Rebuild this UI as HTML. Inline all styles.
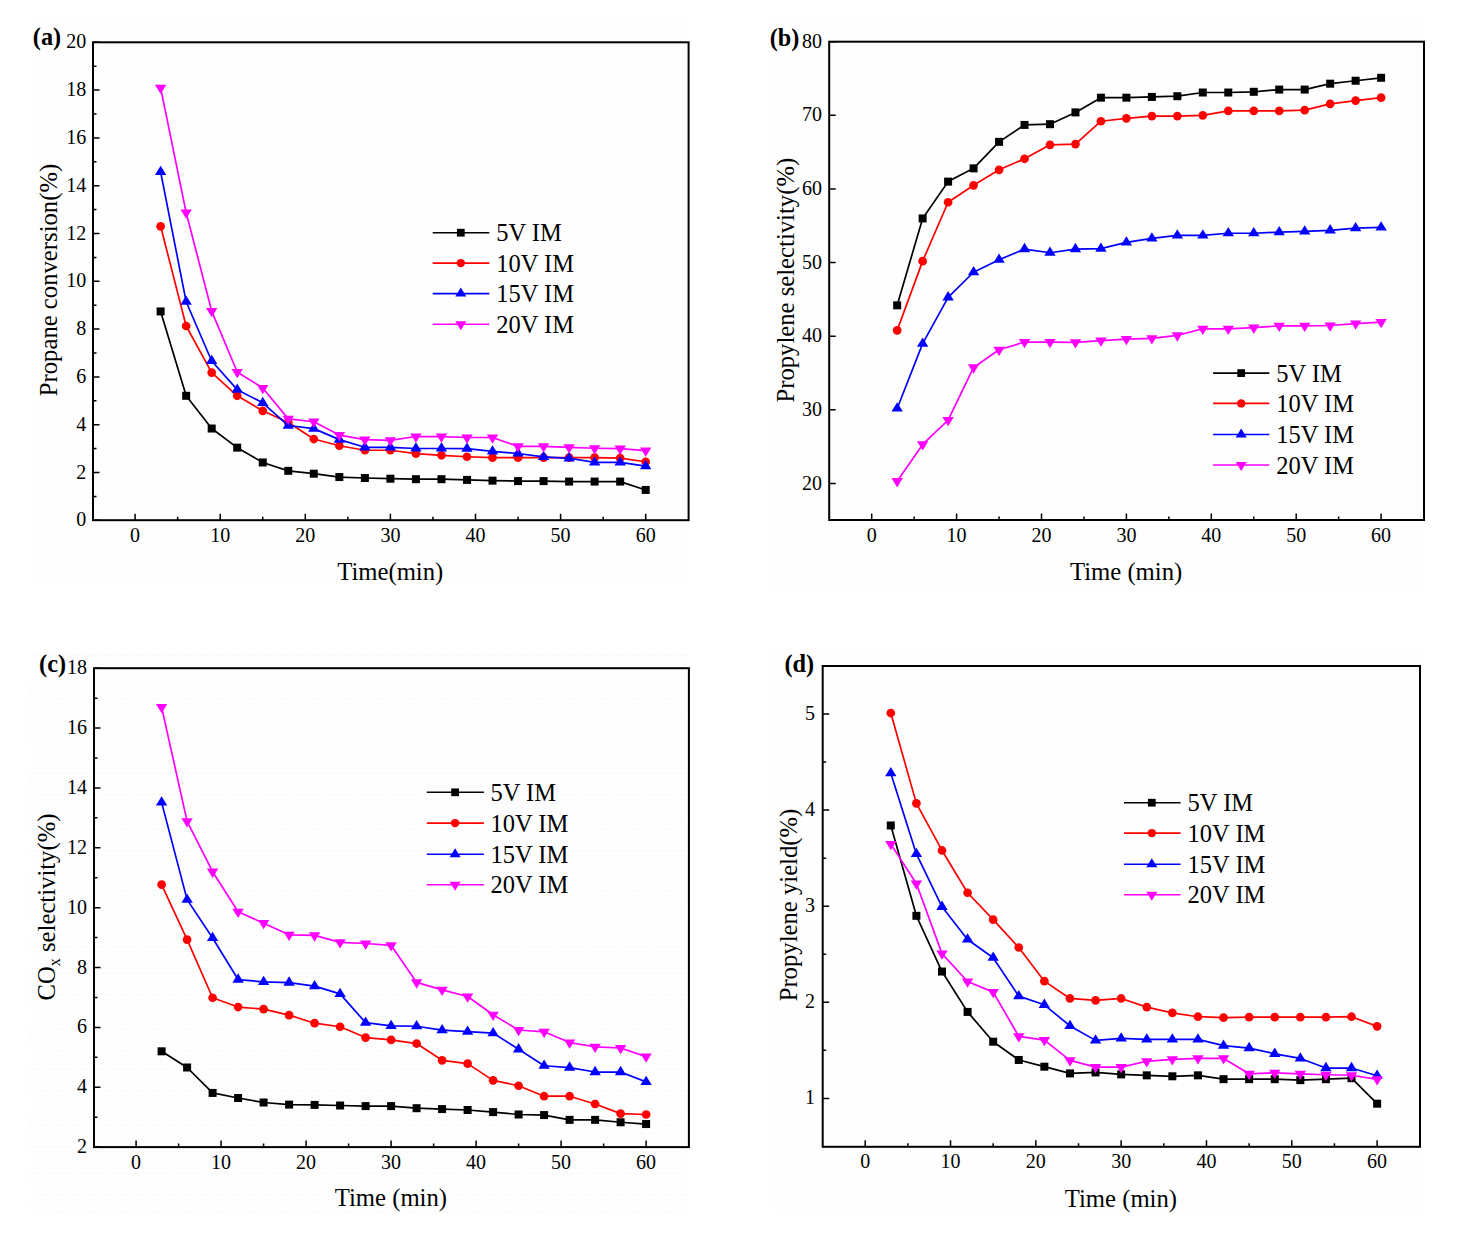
<!DOCTYPE html>
<html><head><meta charset="utf-8"><title>Propane dehydrogenation charts</title>
<style>
html,body{margin:0;padding:0;background:#fff;}
body{width:1466px;height:1239px;position:relative;overflow:hidden;}
svg text{font-family:"Liberation Serif",serif;fill:#000;}
.tk{font-size:20px;}
.lg{font-size:24.5px;}
.ti{font-size:24.7px;}
.lb{font-size:24.3px;font-weight:bold;}
</style></head><body>
<svg width="1466" height="1239" viewBox="0 0 1466 1239" style="position:absolute;left:0;top:0">
<defs><pattern id="dith" patternUnits="userSpaceOnUse" x="30" y="654" width="6.4" height="8.7"><rect x="1" y="1" width="1" height="1" fill="#f7ecea"/><rect x="4.2" y="1" width="1" height="1" fill="#e8f6f8"/><rect x="2.6" y="5.35" width="1" height="1" fill="#e8f6f8"/><rect x="5.8" y="5.35" width="1" height="1" fill="#f7ecea"/></pattern></defs>
<rect x="30" y="20" width="660" height="567" fill="#fefefe"/>
<path d="M135.10 520.20v-6.5 M220.20 520.20v-6.5 M305.30 520.20v-6.5 M390.40 520.20v-6.5 M475.50 520.20v-6.5 M560.60 520.20v-6.5 M645.70 520.20v-6.5 M177.65 520.20v-3.5 M262.75 520.20v-3.5 M347.85 520.20v-3.5 M432.95 520.20v-3.5 M518.05 520.20v-3.5 M603.15 520.20v-3.5 M93.00 520.30h6.5 M93.00 472.50h6.5 M93.00 424.70h6.5 M93.00 376.90h6.5 M93.00 329.10h6.5 M93.00 281.30h6.5 M93.00 233.50h6.5 M93.00 185.70h6.5 M93.00 137.90h6.5 M93.00 90.10h6.5 M93.00 42.30h6.5 M93.00 496.40h3.5 M93.00 448.60h3.5 M93.00 400.80h3.5 M93.00 353.00h3.5 M93.00 305.20h3.5 M93.00 257.40h3.5 M93.00 209.60h3.5 M93.00 161.80h3.5 M93.00 114.00h3.5 M93.00 66.20h3.5" stroke="#000" stroke-width="1.5" fill="none"/>
<rect x="93.00" y="42.30" width="595.60" height="477.90" fill="none" stroke="#000" stroke-width="2"/>
<text x="135.10" y="541.70" text-anchor="middle" class="tk">0</text>
<text x="220.20" y="541.70" text-anchor="middle" class="tk">10</text>
<text x="305.30" y="541.70" text-anchor="middle" class="tk">20</text>
<text x="390.40" y="541.70" text-anchor="middle" class="tk">30</text>
<text x="475.50" y="541.70" text-anchor="middle" class="tk">40</text>
<text x="560.60" y="541.70" text-anchor="middle" class="tk">50</text>
<text x="645.70" y="541.70" text-anchor="middle" class="tk">60</text>
<text x="86.30" y="526.30" text-anchor="end" class="tk">0</text>
<text x="86.30" y="478.50" text-anchor="end" class="tk">2</text>
<text x="86.30" y="430.70" text-anchor="end" class="tk">4</text>
<text x="86.30" y="382.90" text-anchor="end" class="tk">6</text>
<text x="86.30" y="335.10" text-anchor="end" class="tk">8</text>
<text x="86.30" y="287.30" text-anchor="end" class="tk">10</text>
<text x="86.30" y="239.50" text-anchor="end" class="tk">12</text>
<text x="86.30" y="191.70" text-anchor="end" class="tk">14</text>
<text x="86.30" y="143.90" text-anchor="end" class="tk">16</text>
<text x="86.30" y="96.10" text-anchor="end" class="tk">18</text>
<text x="86.30" y="48.30" text-anchor="end" class="tk">20</text>
<polyline points="160.63,311.41 186.16,395.78 211.69,428.52 237.22,447.64 262.75,462.46 288.28,470.83 313.81,473.69 339.34,477.04 364.87,478.00 390.40,478.71 415.93,479.19 441.46,479.19 466.99,479.91 492.52,480.63 518.05,481.10 543.58,481.10 569.11,481.58 594.64,481.58 620.17,481.58 645.70,489.95" fill="none" stroke="#000000" stroke-width="1.7" stroke-linejoin="round"/>
<rect x="156.63" y="307.41" width="8.00" height="8.00" fill="#000000"/><rect x="182.16" y="391.78" width="8.00" height="8.00" fill="#000000"/><rect x="207.69" y="424.52" width="8.00" height="8.00" fill="#000000"/><rect x="233.22" y="443.64" width="8.00" height="8.00" fill="#000000"/><rect x="258.75" y="458.46" width="8.00" height="8.00" fill="#000000"/><rect x="284.28" y="466.83" width="8.00" height="8.00" fill="#000000"/><rect x="309.81" y="469.69" width="8.00" height="8.00" fill="#000000"/><rect x="335.34" y="473.04" width="8.00" height="8.00" fill="#000000"/><rect x="360.87" y="474.00" width="8.00" height="8.00" fill="#000000"/><rect x="386.40" y="474.71" width="8.00" height="8.00" fill="#000000"/><rect x="411.93" y="475.19" width="8.00" height="8.00" fill="#000000"/><rect x="437.46" y="475.19" width="8.00" height="8.00" fill="#000000"/><rect x="462.99" y="475.91" width="8.00" height="8.00" fill="#000000"/><rect x="488.52" y="476.63" width="8.00" height="8.00" fill="#000000"/><rect x="514.05" y="477.10" width="8.00" height="8.00" fill="#000000"/><rect x="539.58" y="477.10" width="8.00" height="8.00" fill="#000000"/><rect x="565.11" y="477.58" width="8.00" height="8.00" fill="#000000"/><rect x="590.64" y="477.58" width="8.00" height="8.00" fill="#000000"/><rect x="616.17" y="477.58" width="8.00" height="8.00" fill="#000000"/><rect x="641.70" y="485.95" width="8.00" height="8.00" fill="#000000"/>
<polyline points="160.63,226.33 186.16,325.99 211.69,372.60 237.22,395.78 262.75,410.84 288.28,422.55 313.81,439.04 339.34,445.73 364.87,450.27 390.40,450.27 415.93,453.62 441.46,455.29 466.99,456.73 492.52,457.68 518.05,457.68 543.58,457.68 569.11,457.68 594.64,457.68 620.17,458.16 645.70,461.74" fill="none" stroke="#ff0000" stroke-width="1.7" stroke-linejoin="round"/>
<circle cx="160.63" cy="226.33" r="4.35" fill="#ff0000"/><circle cx="186.16" cy="325.99" r="4.35" fill="#ff0000"/><circle cx="211.69" cy="372.60" r="4.35" fill="#ff0000"/><circle cx="237.22" cy="395.78" r="4.35" fill="#ff0000"/><circle cx="262.75" cy="410.84" r="4.35" fill="#ff0000"/><circle cx="288.28" cy="422.55" r="4.35" fill="#ff0000"/><circle cx="313.81" cy="439.04" r="4.35" fill="#ff0000"/><circle cx="339.34" cy="445.73" r="4.35" fill="#ff0000"/><circle cx="364.87" cy="450.27" r="4.35" fill="#ff0000"/><circle cx="390.40" cy="450.27" r="4.35" fill="#ff0000"/><circle cx="415.93" cy="453.62" r="4.35" fill="#ff0000"/><circle cx="441.46" cy="455.29" r="4.35" fill="#ff0000"/><circle cx="466.99" cy="456.73" r="4.35" fill="#ff0000"/><circle cx="492.52" cy="457.68" r="4.35" fill="#ff0000"/><circle cx="518.05" cy="457.68" r="4.35" fill="#ff0000"/><circle cx="543.58" cy="457.68" r="4.35" fill="#ff0000"/><circle cx="569.11" cy="457.68" r="4.35" fill="#ff0000"/><circle cx="594.64" cy="457.68" r="4.35" fill="#ff0000"/><circle cx="620.17" cy="458.16" r="4.35" fill="#ff0000"/><circle cx="645.70" cy="461.74" r="4.35" fill="#ff0000"/>
<polyline points="160.63,171.95 186.16,301.73 211.69,361.00 237.22,389.68 262.75,402.83 288.28,425.53 313.81,428.64 339.34,439.63 364.87,447.28 390.40,447.28 415.93,448.48 441.46,448.48 466.99,448.72 492.52,451.34 518.05,453.50 543.58,456.84 569.11,458.28 594.64,462.34 620.17,462.34 645.70,466.16" fill="none" stroke="#0000ff" stroke-width="1.7" stroke-linejoin="round"/>
<path d="M160.63 165.75L166.33 175.05L154.93 175.05Z" fill="#0000ff"/><path d="M186.16 295.53L191.86 304.83L180.46 304.83Z" fill="#0000ff"/><path d="M211.69 354.80L217.39 364.10L205.99 364.10Z" fill="#0000ff"/><path d="M237.22 383.48L242.92 392.78L231.52 392.78Z" fill="#0000ff"/><path d="M262.75 396.63L268.45 405.93L257.05 405.93Z" fill="#0000ff"/><path d="M288.28 419.33L293.98 428.63L282.58 428.63Z" fill="#0000ff"/><path d="M313.81 422.44L319.51 431.74L308.11 431.74Z" fill="#0000ff"/><path d="M339.34 433.43L345.04 442.73L333.64 442.73Z" fill="#0000ff"/><path d="M364.87 441.08L370.57 450.38L359.17 450.38Z" fill="#0000ff"/><path d="M390.40 441.08L396.10 450.38L384.70 450.38Z" fill="#0000ff"/><path d="M415.93 442.28L421.63 451.58L410.23 451.58Z" fill="#0000ff"/><path d="M441.46 442.28L447.16 451.58L435.76 451.58Z" fill="#0000ff"/><path d="M466.99 442.52L472.69 451.82L461.29 451.82Z" fill="#0000ff"/><path d="M492.52 445.14L498.22 454.44L486.82 454.44Z" fill="#0000ff"/><path d="M518.05 447.30L523.75 456.60L512.35 456.60Z" fill="#0000ff"/><path d="M543.58 450.64L549.28 459.94L537.88 459.94Z" fill="#0000ff"/><path d="M569.11 452.08L574.81 461.38L563.41 461.38Z" fill="#0000ff"/><path d="M594.64 456.14L600.34 465.44L588.94 465.44Z" fill="#0000ff"/><path d="M620.17 456.14L625.87 465.44L614.47 465.44Z" fill="#0000ff"/><path d="M645.70 459.96L651.40 469.26L640.00 469.26Z" fill="#0000ff"/>
<polyline points="160.63,87.83 186.16,212.59 211.69,311.06 237.22,372.00 262.75,388.02 288.28,418.85 313.81,421.72 339.34,435.10 364.87,439.64 390.40,440.36 415.93,436.53 441.46,436.53 466.99,437.49 492.52,437.49 518.05,446.33 543.58,446.33 569.11,447.29 594.64,448.24 620.17,448.72 645.70,450.63" fill="none" stroke="#ff00ff" stroke-width="1.7" stroke-linejoin="round"/>
<path d="M154.93 84.73L166.33 84.73L160.63 94.03Z" fill="#ff00ff"/><path d="M180.46 209.49L191.86 209.49L186.16 218.79Z" fill="#ff00ff"/><path d="M205.99 307.96L217.39 307.96L211.69 317.26Z" fill="#ff00ff"/><path d="M231.52 368.90L242.92 368.90L237.22 378.20Z" fill="#ff00ff"/><path d="M257.05 384.92L268.45 384.92L262.75 394.22Z" fill="#ff00ff"/><path d="M282.58 415.75L293.98 415.75L288.28 425.05Z" fill="#ff00ff"/><path d="M308.11 418.62L319.51 418.62L313.81 427.92Z" fill="#ff00ff"/><path d="M333.64 432.00L345.04 432.00L339.34 441.30Z" fill="#ff00ff"/><path d="M359.17 436.54L370.57 436.54L364.87 445.84Z" fill="#ff00ff"/><path d="M384.70 437.26L396.10 437.26L390.40 446.56Z" fill="#ff00ff"/><path d="M410.23 433.43L421.63 433.43L415.93 442.73Z" fill="#ff00ff"/><path d="M435.76 433.43L447.16 433.43L441.46 442.73Z" fill="#ff00ff"/><path d="M461.29 434.39L472.69 434.39L466.99 443.69Z" fill="#ff00ff"/><path d="M486.82 434.39L498.22 434.39L492.52 443.69Z" fill="#ff00ff"/><path d="M512.35 443.23L523.75 443.23L518.05 452.53Z" fill="#ff00ff"/><path d="M537.88 443.23L549.28 443.23L543.58 452.53Z" fill="#ff00ff"/><path d="M563.41 444.19L574.81 444.19L569.11 453.49Z" fill="#ff00ff"/><path d="M588.94 445.14L600.34 445.14L594.64 454.44Z" fill="#ff00ff"/><path d="M614.47 445.62L625.87 445.62L620.17 454.92Z" fill="#ff00ff"/><path d="M640.00 447.53L651.40 447.53L645.70 456.83Z" fill="#ff00ff"/>
<path d="M432.70 232.70H489.30" stroke="#000000" stroke-width="1.6"/>
<rect x="456.92" y="228.82" width="7.76" height="7.76" fill="#000000"/>
<text x="496.20" y="241.20" class="lg">5V IM</text>
<path d="M432.70 263.10H489.30" stroke="#ff0000" stroke-width="1.6"/>
<circle cx="460.80" cy="263.10" r="4.22" fill="#ff0000"/>
<text x="496.20" y="271.60" class="lg">10V IM</text>
<path d="M432.70 293.60H489.30" stroke="#0000ff" stroke-width="1.6"/>
<path d="M460.80 287.54L466.33 296.56L455.27 296.56Z" fill="#0000ff"/>
<text x="496.20" y="302.10" class="lg">15V IM</text>
<path d="M432.70 324.30H489.30" stroke="#ff00ff" stroke-width="1.6"/>
<path d="M455.27 321.34L466.33 321.34L460.80 330.36Z" fill="#ff00ff"/>
<text x="496.20" y="332.80" class="lg">20V IM</text>
<text x="337.20" y="579.90" class="ti">Time(min)</text>
<text x="0" y="0" text-anchor="middle" class="ti" transform="translate(57.30,280.00) rotate(-90)">Propane conversion(%)</text>
<text x="32.80" y="45.20" class="lb">(a)</text>
<rect x="767" y="20" width="659" height="568" fill="#fefefe"/>
<path d="M871.70 520.00v-6.5 M956.60 520.00v-6.5 M1041.50 520.00v-6.5 M1126.40 520.00v-6.5 M1211.30 520.00v-6.5 M1296.20 520.00v-6.5 M1381.10 520.00v-6.5 M914.15 520.00v-3.5 M999.05 520.00v-3.5 M1083.95 520.00v-3.5 M1168.85 520.00v-3.5 M1253.75 520.00v-3.5 M1338.65 520.00v-3.5 M829.20 483.50h6.5 M829.20 409.87h6.5 M829.20 336.24h6.5 M829.20 262.61h6.5 M829.20 188.98h6.5 M829.20 115.35h6.5 M829.20 41.72h6.5 M829.20 483.50h3.5 M829.20 409.87h3.5 M829.20 336.24h3.5 M829.20 262.61h3.5 M829.20 188.98h3.5 M829.20 115.35h3.5" stroke="#000" stroke-width="1.5" fill="none"/>
<rect x="829.20" y="41.70" width="594.80" height="478.30" fill="none" stroke="#000" stroke-width="2"/>
<text x="871.70" y="541.50" text-anchor="middle" class="tk">0</text>
<text x="956.60" y="541.50" text-anchor="middle" class="tk">10</text>
<text x="1041.50" y="541.50" text-anchor="middle" class="tk">20</text>
<text x="1126.40" y="541.50" text-anchor="middle" class="tk">30</text>
<text x="1211.30" y="541.50" text-anchor="middle" class="tk">40</text>
<text x="1296.20" y="541.50" text-anchor="middle" class="tk">50</text>
<text x="1381.10" y="541.50" text-anchor="middle" class="tk">60</text>
<text x="822.00" y="489.50" text-anchor="end" class="tk">20</text>
<text x="822.00" y="415.87" text-anchor="end" class="tk">30</text>
<text x="822.00" y="342.24" text-anchor="end" class="tk">40</text>
<text x="822.00" y="268.61" text-anchor="end" class="tk">50</text>
<text x="822.00" y="194.98" text-anchor="end" class="tk">60</text>
<text x="822.00" y="121.35" text-anchor="end" class="tk">70</text>
<text x="822.00" y="47.72" text-anchor="end" class="tk">80</text>
<polyline points="897.17,305.32 922.64,218.43 948.11,181.62 973.58,168.36 999.05,141.86 1024.52,124.92 1049.99,124.19 1075.46,112.40 1100.93,97.68 1126.40,97.68 1151.87,96.94 1177.34,96.21 1202.81,92.52 1228.28,92.52 1253.75,91.79 1279.22,89.58 1304.69,89.58 1330.16,83.69 1355.63,80.74 1381.10,77.80" fill="none" stroke="#000000" stroke-width="1.7" stroke-linejoin="round"/>
<rect x="893.17" y="301.32" width="8.00" height="8.00" fill="#000000"/><rect x="918.64" y="214.43" width="8.00" height="8.00" fill="#000000"/><rect x="944.11" y="177.62" width="8.00" height="8.00" fill="#000000"/><rect x="969.58" y="164.36" width="8.00" height="8.00" fill="#000000"/><rect x="995.05" y="137.86" width="8.00" height="8.00" fill="#000000"/><rect x="1020.52" y="120.92" width="8.00" height="8.00" fill="#000000"/><rect x="1045.99" y="120.19" width="8.00" height="8.00" fill="#000000"/><rect x="1071.46" y="108.40" width="8.00" height="8.00" fill="#000000"/><rect x="1096.93" y="93.68" width="8.00" height="8.00" fill="#000000"/><rect x="1122.40" y="93.68" width="8.00" height="8.00" fill="#000000"/><rect x="1147.87" y="92.94" width="8.00" height="8.00" fill="#000000"/><rect x="1173.34" y="92.21" width="8.00" height="8.00" fill="#000000"/><rect x="1198.81" y="88.52" width="8.00" height="8.00" fill="#000000"/><rect x="1224.28" y="88.52" width="8.00" height="8.00" fill="#000000"/><rect x="1249.75" y="87.79" width="8.00" height="8.00" fill="#000000"/><rect x="1275.22" y="85.58" width="8.00" height="8.00" fill="#000000"/><rect x="1300.69" y="85.58" width="8.00" height="8.00" fill="#000000"/><rect x="1326.16" y="79.69" width="8.00" height="8.00" fill="#000000"/><rect x="1351.63" y="76.74" width="8.00" height="8.00" fill="#000000"/><rect x="1377.10" y="73.80" width="8.00" height="8.00" fill="#000000"/>
<polyline points="897.17,330.35 922.64,261.14 948.11,202.23 973.58,185.30 999.05,169.84 1024.52,158.79 1049.99,144.80 1075.46,144.07 1100.93,121.24 1126.40,118.30 1151.87,116.09 1177.34,116.09 1202.81,115.35 1228.28,110.93 1253.75,110.93 1279.22,110.93 1304.69,110.20 1330.16,103.94 1355.63,100.62 1381.10,97.68" fill="none" stroke="#ff0000" stroke-width="1.7" stroke-linejoin="round"/>
<circle cx="897.17" cy="330.35" r="4.35" fill="#ff0000"/><circle cx="922.64" cy="261.14" r="4.35" fill="#ff0000"/><circle cx="948.11" cy="202.23" r="4.35" fill="#ff0000"/><circle cx="973.58" cy="185.30" r="4.35" fill="#ff0000"/><circle cx="999.05" cy="169.84" r="4.35" fill="#ff0000"/><circle cx="1024.52" cy="158.79" r="4.35" fill="#ff0000"/><circle cx="1049.99" cy="144.80" r="4.35" fill="#ff0000"/><circle cx="1075.46" cy="144.07" r="4.35" fill="#ff0000"/><circle cx="1100.93" cy="121.24" r="4.35" fill="#ff0000"/><circle cx="1126.40" cy="118.30" r="4.35" fill="#ff0000"/><circle cx="1151.87" cy="116.09" r="4.35" fill="#ff0000"/><circle cx="1177.34" cy="116.09" r="4.35" fill="#ff0000"/><circle cx="1202.81" cy="115.35" r="4.35" fill="#ff0000"/><circle cx="1228.28" cy="110.93" r="4.35" fill="#ff0000"/><circle cx="1253.75" cy="110.93" r="4.35" fill="#ff0000"/><circle cx="1279.22" cy="110.93" r="4.35" fill="#ff0000"/><circle cx="1304.69" cy="110.20" r="4.35" fill="#ff0000"/><circle cx="1330.16" cy="103.94" r="4.35" fill="#ff0000"/><circle cx="1355.63" cy="100.62" r="4.35" fill="#ff0000"/><circle cx="1381.10" cy="97.68" r="4.35" fill="#ff0000"/>
<polyline points="897.17,408.47 922.64,343.68 948.11,297.29 973.58,272.26 999.05,259.74 1024.52,249.07 1049.99,252.75 1075.46,249.07 1100.93,248.70 1126.40,242.44 1151.87,238.39 1177.34,235.44 1202.81,235.44 1228.28,233.24 1253.75,233.24 1279.22,232.13 1304.69,231.39 1330.16,230.29 1355.63,228.08 1381.10,227.34" fill="none" stroke="#0000ff" stroke-width="1.7" stroke-linejoin="round"/>
<path d="M897.17 402.27L902.87 411.57L891.47 411.57Z" fill="#0000ff"/><path d="M922.64 337.48L928.34 346.78L916.94 346.78Z" fill="#0000ff"/><path d="M948.11 291.09L953.81 300.39L942.41 300.39Z" fill="#0000ff"/><path d="M973.58 266.06L979.28 275.36L967.88 275.36Z" fill="#0000ff"/><path d="M999.05 253.54L1004.75 262.84L993.35 262.84Z" fill="#0000ff"/><path d="M1024.52 242.87L1030.22 252.17L1018.82 252.17Z" fill="#0000ff"/><path d="M1049.99 246.55L1055.69 255.85L1044.29 255.85Z" fill="#0000ff"/><path d="M1075.46 242.87L1081.16 252.17L1069.76 252.17Z" fill="#0000ff"/><path d="M1100.93 242.50L1106.63 251.80L1095.23 251.80Z" fill="#0000ff"/><path d="M1126.40 236.24L1132.10 245.54L1120.70 245.54Z" fill="#0000ff"/><path d="M1151.87 232.19L1157.57 241.49L1146.17 241.49Z" fill="#0000ff"/><path d="M1177.34 229.24L1183.04 238.54L1171.64 238.54Z" fill="#0000ff"/><path d="M1202.81 229.24L1208.51 238.54L1197.11 238.54Z" fill="#0000ff"/><path d="M1228.28 227.04L1233.98 236.34L1222.58 236.34Z" fill="#0000ff"/><path d="M1253.75 227.04L1259.45 236.34L1248.05 236.34Z" fill="#0000ff"/><path d="M1279.22 225.93L1284.92 235.23L1273.52 235.23Z" fill="#0000ff"/><path d="M1304.69 225.19L1310.39 234.49L1298.99 234.49Z" fill="#0000ff"/><path d="M1330.16 224.09L1335.86 233.39L1324.46 233.39Z" fill="#0000ff"/><path d="M1355.63 221.88L1361.33 231.18L1349.93 231.18Z" fill="#0000ff"/><path d="M1381.10 221.14L1386.80 230.44L1375.40 230.44Z" fill="#0000ff"/>
<polyline points="897.17,481.21 922.64,444.40 948.11,420.10 973.58,367.46 999.05,349.78 1024.52,342.05 1049.99,342.05 1075.46,342.42 1100.93,340.58 1126.40,339.11 1151.87,338.37 1177.34,335.43 1202.81,328.80 1228.28,328.80 1253.75,327.70 1279.22,325.85 1304.69,325.85 1330.16,325.49 1355.63,323.65 1381.10,322.17" fill="none" stroke="#ff00ff" stroke-width="1.7" stroke-linejoin="round"/>
<path d="M891.47 478.11L902.87 478.11L897.17 487.41Z" fill="#ff00ff"/><path d="M916.94 441.30L928.34 441.30L922.64 450.60Z" fill="#ff00ff"/><path d="M942.41 417.00L953.81 417.00L948.11 426.30Z" fill="#ff00ff"/><path d="M967.88 364.36L979.28 364.36L973.58 373.66Z" fill="#ff00ff"/><path d="M993.35 346.68L1004.75 346.68L999.05 355.98Z" fill="#ff00ff"/><path d="M1018.82 338.95L1030.22 338.95L1024.52 348.25Z" fill="#ff00ff"/><path d="M1044.29 338.95L1055.69 338.95L1049.99 348.25Z" fill="#ff00ff"/><path d="M1069.76 339.32L1081.16 339.32L1075.46 348.62Z" fill="#ff00ff"/><path d="M1095.23 337.48L1106.63 337.48L1100.93 346.78Z" fill="#ff00ff"/><path d="M1120.70 336.01L1132.10 336.01L1126.40 345.31Z" fill="#ff00ff"/><path d="M1146.17 335.27L1157.57 335.27L1151.87 344.57Z" fill="#ff00ff"/><path d="M1171.64 332.33L1183.04 332.33L1177.34 341.63Z" fill="#ff00ff"/><path d="M1197.11 325.70L1208.51 325.70L1202.81 335.00Z" fill="#ff00ff"/><path d="M1222.58 325.70L1233.98 325.70L1228.28 335.00Z" fill="#ff00ff"/><path d="M1248.05 324.60L1259.45 324.60L1253.75 333.90Z" fill="#ff00ff"/><path d="M1273.52 322.75L1284.92 322.75L1279.22 332.05Z" fill="#ff00ff"/><path d="M1298.99 322.75L1310.39 322.75L1304.69 332.05Z" fill="#ff00ff"/><path d="M1324.46 322.39L1335.86 322.39L1330.16 331.69Z" fill="#ff00ff"/><path d="M1349.93 320.55L1361.33 320.55L1355.63 329.85Z" fill="#ff00ff"/><path d="M1375.40 319.07L1386.80 319.07L1381.10 328.37Z" fill="#ff00ff"/>
<path d="M1213.10 373.10H1269.30" stroke="#000000" stroke-width="1.6"/>
<rect x="1237.32" y="369.22" width="7.76" height="7.76" fill="#000000"/>
<text x="1276.20" y="381.60" class="lg">5V IM</text>
<path d="M1213.10 403.40H1269.30" stroke="#ff0000" stroke-width="1.6"/>
<circle cx="1241.20" cy="403.40" r="4.22" fill="#ff0000"/>
<text x="1276.20" y="411.90" class="lg">10V IM</text>
<path d="M1213.10 434.50H1269.30" stroke="#0000ff" stroke-width="1.6"/>
<path d="M1241.20 428.44L1246.73 437.46L1235.67 437.46Z" fill="#0000ff"/>
<text x="1276.20" y="443.00" class="lg">15V IM</text>
<path d="M1213.10 465.00H1269.30" stroke="#ff00ff" stroke-width="1.6"/>
<path d="M1235.67 462.04L1246.73 462.04L1241.20 471.06Z" fill="#ff00ff"/>
<text x="1276.20" y="473.50" class="lg">20V IM</text>
<text x="1070.00" y="580.10" class="ti">Time (min)</text>
<text x="0" y="0" text-anchor="middle" class="ti" transform="translate(794.00,280.20) rotate(-90)">Propylene selectivity(%)</text>
<text x="769.70" y="45.70" class="lb">(b)</text>
<rect x="30" y="654" width="658" height="560" fill="#fefefe"/>
<rect x="30" y="654" width="658" height="560" fill="url(#dith)"/>
<path d="M136.10 1147.10v-6.5 M221.10 1147.10v-6.5 M306.10 1147.10v-6.5 M391.10 1147.10v-6.5 M476.10 1147.10v-6.5 M561.10 1147.10v-6.5 M646.10 1147.10v-6.5 M178.60 1147.10v-3.5 M263.60 1147.10v-3.5 M348.60 1147.10v-3.5 M433.60 1147.10v-3.5 M518.60 1147.10v-3.5 M603.60 1147.10v-3.5 M94.00 1147.10h6.5 M94.00 1087.24h6.5 M94.00 1027.38h6.5 M94.00 967.52h6.5 M94.00 907.66h6.5 M94.00 847.80h6.5 M94.00 787.94h6.5 M94.00 728.08h6.5 M94.00 668.22h6.5 M94.00 1117.17h3.5 M94.00 1057.31h3.5 M94.00 997.45h3.5 M94.00 937.59h3.5 M94.00 877.73h3.5 M94.00 817.87h3.5 M94.00 758.01h3.5 M94.00 698.15h3.5" stroke="#000" stroke-width="1.5" fill="none"/>
<rect x="94.00" y="668.20" width="594.90" height="478.90" fill="none" stroke="#000" stroke-width="2"/>
<text x="136.10" y="1168.60" text-anchor="middle" class="tk">0</text>
<text x="221.10" y="1168.60" text-anchor="middle" class="tk">10</text>
<text x="306.10" y="1168.60" text-anchor="middle" class="tk">20</text>
<text x="391.10" y="1168.60" text-anchor="middle" class="tk">30</text>
<text x="476.10" y="1168.60" text-anchor="middle" class="tk">40</text>
<text x="561.10" y="1168.60" text-anchor="middle" class="tk">50</text>
<text x="646.10" y="1168.60" text-anchor="middle" class="tk">60</text>
<text x="87.00" y="1153.10" text-anchor="end" class="tk">2</text>
<text x="87.00" y="1093.24" text-anchor="end" class="tk">4</text>
<text x="87.00" y="1033.38" text-anchor="end" class="tk">6</text>
<text x="87.00" y="973.52" text-anchor="end" class="tk">8</text>
<text x="87.00" y="913.66" text-anchor="end" class="tk">10</text>
<text x="87.00" y="853.80" text-anchor="end" class="tk">12</text>
<text x="87.00" y="793.94" text-anchor="end" class="tk">14</text>
<text x="87.00" y="734.08" text-anchor="end" class="tk">16</text>
<text x="87.00" y="674.22" text-anchor="end" class="tk">18</text>
<polyline points="161.60,1051.32 187.10,1067.49 212.60,1092.93 238.10,1098.01 263.60,1102.50 289.10,1104.60 314.60,1104.90 340.10,1105.50 365.60,1106.10 391.10,1106.10 416.60,1108.19 442.10,1109.09 467.60,1109.99 493.10,1112.08 518.60,1114.48 544.10,1115.07 569.60,1119.86 595.10,1119.86 620.60,1122.26 646.10,1124.05" fill="none" stroke="#000000" stroke-width="1.7" stroke-linejoin="round"/>
<rect x="157.60" y="1047.32" width="8.00" height="8.00" fill="#000000"/><rect x="183.10" y="1063.49" width="8.00" height="8.00" fill="#000000"/><rect x="208.60" y="1088.93" width="8.00" height="8.00" fill="#000000"/><rect x="234.10" y="1094.01" width="8.00" height="8.00" fill="#000000"/><rect x="259.60" y="1098.50" width="8.00" height="8.00" fill="#000000"/><rect x="285.10" y="1100.60" width="8.00" height="8.00" fill="#000000"/><rect x="310.60" y="1100.90" width="8.00" height="8.00" fill="#000000"/><rect x="336.10" y="1101.50" width="8.00" height="8.00" fill="#000000"/><rect x="361.60" y="1102.10" width="8.00" height="8.00" fill="#000000"/><rect x="387.10" y="1102.10" width="8.00" height="8.00" fill="#000000"/><rect x="412.60" y="1104.19" width="8.00" height="8.00" fill="#000000"/><rect x="438.10" y="1105.09" width="8.00" height="8.00" fill="#000000"/><rect x="463.60" y="1105.99" width="8.00" height="8.00" fill="#000000"/><rect x="489.10" y="1108.08" width="8.00" height="8.00" fill="#000000"/><rect x="514.60" y="1110.48" width="8.00" height="8.00" fill="#000000"/><rect x="540.10" y="1111.07" width="8.00" height="8.00" fill="#000000"/><rect x="565.60" y="1115.86" width="8.00" height="8.00" fill="#000000"/><rect x="591.10" y="1115.86" width="8.00" height="8.00" fill="#000000"/><rect x="616.60" y="1118.26" width="8.00" height="8.00" fill="#000000"/><rect x="642.10" y="1120.05" width="8.00" height="8.00" fill="#000000"/>
<polyline points="161.60,884.61 187.10,939.69 212.60,997.75 238.10,1007.03 263.60,1009.12 289.10,1015.11 314.60,1023.19 340.10,1026.78 365.60,1037.56 391.10,1039.95 416.60,1043.54 442.10,1060.30 467.60,1063.60 493.10,1080.36 518.60,1085.74 544.10,1096.22 569.60,1096.22 595.10,1104.00 620.60,1113.58 646.10,1114.48" fill="none" stroke="#ff0000" stroke-width="1.7" stroke-linejoin="round"/>
<circle cx="161.60" cy="884.61" r="4.35" fill="#ff0000"/><circle cx="187.10" cy="939.69" r="4.35" fill="#ff0000"/><circle cx="212.60" cy="997.75" r="4.35" fill="#ff0000"/><circle cx="238.10" cy="1007.03" r="4.35" fill="#ff0000"/><circle cx="263.60" cy="1009.12" r="4.35" fill="#ff0000"/><circle cx="289.10" cy="1015.11" r="4.35" fill="#ff0000"/><circle cx="314.60" cy="1023.19" r="4.35" fill="#ff0000"/><circle cx="340.10" cy="1026.78" r="4.35" fill="#ff0000"/><circle cx="365.60" cy="1037.56" r="4.35" fill="#ff0000"/><circle cx="391.10" cy="1039.95" r="4.35" fill="#ff0000"/><circle cx="416.60" cy="1043.54" r="4.35" fill="#ff0000"/><circle cx="442.10" cy="1060.30" r="4.35" fill="#ff0000"/><circle cx="467.60" cy="1063.60" r="4.35" fill="#ff0000"/><circle cx="493.10" cy="1080.36" r="4.35" fill="#ff0000"/><circle cx="518.60" cy="1085.74" r="4.35" fill="#ff0000"/><circle cx="544.10" cy="1096.22" r="4.35" fill="#ff0000"/><circle cx="569.60" cy="1096.22" r="4.35" fill="#ff0000"/><circle cx="595.10" cy="1104.00" r="4.35" fill="#ff0000"/><circle cx="620.60" cy="1113.58" r="4.35" fill="#ff0000"/><circle cx="646.10" cy="1114.48" r="4.35" fill="#ff0000"/>
<polyline points="161.60,802.36 187.10,899.63 212.60,937.94 238.10,979.55 263.60,981.94 289.10,982.54 314.60,986.13 340.10,993.91 365.60,1022.64 391.10,1025.94 416.60,1026.24 442.10,1030.13 467.60,1031.62 493.10,1033.12 518.60,1049.28 544.10,1065.74 569.60,1067.54 595.10,1072.03 620.60,1072.03 646.10,1081.91" fill="none" stroke="#0000ff" stroke-width="1.7" stroke-linejoin="round"/>
<path d="M161.60 796.16L167.30 805.46L155.90 805.46Z" fill="#0000ff"/><path d="M187.10 893.43L192.80 902.73L181.40 902.73Z" fill="#0000ff"/><path d="M212.60 931.74L218.30 941.04L206.90 941.04Z" fill="#0000ff"/><path d="M238.10 973.35L243.80 982.65L232.40 982.65Z" fill="#0000ff"/><path d="M263.60 975.74L269.30 985.04L257.90 985.04Z" fill="#0000ff"/><path d="M289.10 976.34L294.80 985.64L283.40 985.64Z" fill="#0000ff"/><path d="M314.60 979.93L320.30 989.23L308.90 989.23Z" fill="#0000ff"/><path d="M340.10 987.71L345.80 997.01L334.40 997.01Z" fill="#0000ff"/><path d="M365.60 1016.44L371.30 1025.74L359.90 1025.74Z" fill="#0000ff"/><path d="M391.10 1019.74L396.80 1029.04L385.40 1029.04Z" fill="#0000ff"/><path d="M416.60 1020.04L422.30 1029.34L410.90 1029.34Z" fill="#0000ff"/><path d="M442.10 1023.93L447.80 1033.23L436.40 1033.23Z" fill="#0000ff"/><path d="M467.60 1025.42L473.30 1034.72L461.90 1034.72Z" fill="#0000ff"/><path d="M493.10 1026.92L498.80 1036.22L487.40 1036.22Z" fill="#0000ff"/><path d="M518.60 1043.08L524.30 1052.38L512.90 1052.38Z" fill="#0000ff"/><path d="M544.10 1059.54L549.80 1068.84L538.40 1068.84Z" fill="#0000ff"/><path d="M569.60 1061.34L575.30 1070.64L563.90 1070.64Z" fill="#0000ff"/><path d="M595.10 1065.83L600.80 1075.13L589.40 1075.13Z" fill="#0000ff"/><path d="M620.60 1065.83L626.30 1075.13L614.90 1075.13Z" fill="#0000ff"/><path d="M646.10 1075.71L651.80 1085.01L640.40 1085.01Z" fill="#0000ff"/>
<polyline points="161.60,707.08 187.10,821.41 212.60,871.69 238.10,911.80 263.60,923.17 289.10,934.84 314.60,935.44 340.10,942.33 365.60,943.52 391.10,945.32 416.60,982.43 442.10,989.91 467.60,996.50 493.10,1014.76 518.60,1030.02 544.10,1031.82 569.60,1042.59 595.10,1046.78 620.60,1047.98 646.10,1056.66" fill="none" stroke="#ff00ff" stroke-width="1.7" stroke-linejoin="round"/>
<path d="M155.90 703.98L167.30 703.98L161.60 713.28Z" fill="#ff00ff"/><path d="M181.40 818.31L192.80 818.31L187.10 827.61Z" fill="#ff00ff"/><path d="M206.90 868.59L218.30 868.59L212.60 877.89Z" fill="#ff00ff"/><path d="M232.40 908.70L243.80 908.70L238.10 918.00Z" fill="#ff00ff"/><path d="M257.90 920.07L269.30 920.07L263.60 929.37Z" fill="#ff00ff"/><path d="M283.40 931.74L294.80 931.74L289.10 941.04Z" fill="#ff00ff"/><path d="M308.90 932.34L320.30 932.34L314.60 941.64Z" fill="#ff00ff"/><path d="M334.40 939.23L345.80 939.23L340.10 948.53Z" fill="#ff00ff"/><path d="M359.90 940.42L371.30 940.42L365.60 949.72Z" fill="#ff00ff"/><path d="M385.40 942.22L396.80 942.22L391.10 951.52Z" fill="#ff00ff"/><path d="M410.90 979.33L422.30 979.33L416.60 988.63Z" fill="#ff00ff"/><path d="M436.40 986.81L447.80 986.81L442.10 996.11Z" fill="#ff00ff"/><path d="M461.90 993.40L473.30 993.40L467.60 1002.70Z" fill="#ff00ff"/><path d="M487.40 1011.66L498.80 1011.66L493.10 1020.96Z" fill="#ff00ff"/><path d="M512.90 1026.92L524.30 1026.92L518.60 1036.22Z" fill="#ff00ff"/><path d="M538.40 1028.72L549.80 1028.72L544.10 1038.02Z" fill="#ff00ff"/><path d="M563.90 1039.49L575.30 1039.49L569.60 1048.79Z" fill="#ff00ff"/><path d="M589.40 1043.68L600.80 1043.68L595.10 1052.98Z" fill="#ff00ff"/><path d="M614.90 1044.88L626.30 1044.88L620.60 1054.18Z" fill="#ff00ff"/><path d="M640.40 1053.56L651.80 1053.56L646.10 1062.86Z" fill="#ff00ff"/>
<path d="M426.80 792.30H483.90" stroke="#000000" stroke-width="1.6"/>
<rect x="451.22" y="788.42" width="7.76" height="7.76" fill="#000000"/>
<text x="490.40" y="800.80" class="lg">5V IM</text>
<path d="M426.80 823.10H483.90" stroke="#ff0000" stroke-width="1.6"/>
<circle cx="455.10" cy="823.10" r="4.22" fill="#ff0000"/>
<text x="490.40" y="831.60" class="lg">10V IM</text>
<path d="M426.80 854.20H483.90" stroke="#0000ff" stroke-width="1.6"/>
<path d="M455.10 848.14L460.63 857.16L449.57 857.16Z" fill="#0000ff"/>
<text x="490.40" y="862.70" class="lg">15V IM</text>
<path d="M426.80 884.70H483.90" stroke="#ff00ff" stroke-width="1.6"/>
<path d="M449.57 881.74L460.63 881.74L455.10 890.76Z" fill="#ff00ff"/>
<text x="490.40" y="893.20" class="lg">20V IM</text>
<text x="334.80" y="1206.30" class="ti">Time (min)</text>
<text x="0" y="0" text-anchor="middle" class="ti" transform="translate(55.2,907.0) rotate(-90)">CO<tspan dy="5" font-size="16">x</tspan><tspan dy="-5"> selectivity(%)</tspan></text>
<text x="39.10" y="671.70" class="lb">(c)</text>
<rect x="771" y="647" width="651" height="566" fill="#fefefe"/>
<path d="M865.20 1146.80v-6.5 M950.52 1146.80v-6.5 M1035.84 1146.80v-6.5 M1121.16 1146.80v-6.5 M1206.48 1146.80v-6.5 M1291.80 1146.80v-6.5 M1377.12 1146.80v-6.5 M907.86 1146.80v-3.5 M993.18 1146.80v-3.5 M1078.50 1146.80v-3.5 M1163.82 1146.80v-3.5 M1249.14 1146.80v-3.5 M1334.46 1146.80v-3.5 M822.70 1098.40h6.5 M822.70 1002.30h6.5 M822.70 906.20h6.5 M822.70 810.10h6.5 M822.70 714.00h6.5 M822.70 1050.35h3.5 M822.70 954.25h3.5 M822.70 858.15h3.5 M822.70 762.05h3.5" stroke="#000" stroke-width="1.5" fill="none"/>
<rect x="822.70" y="666.00" width="597.30" height="480.80" fill="none" stroke="#000" stroke-width="2"/>
<text x="865.20" y="1168.30" text-anchor="middle" class="tk">0</text>
<text x="950.52" y="1168.30" text-anchor="middle" class="tk">10</text>
<text x="1035.84" y="1168.30" text-anchor="middle" class="tk">20</text>
<text x="1121.16" y="1168.30" text-anchor="middle" class="tk">30</text>
<text x="1206.48" y="1168.30" text-anchor="middle" class="tk">40</text>
<text x="1291.80" y="1168.30" text-anchor="middle" class="tk">50</text>
<text x="1377.12" y="1168.30" text-anchor="middle" class="tk">60</text>
<text x="815.00" y="1104.40" text-anchor="end" class="tk">1</text>
<text x="815.00" y="1008.30" text-anchor="end" class="tk">2</text>
<text x="815.00" y="912.20" text-anchor="end" class="tk">3</text>
<text x="815.00" y="816.10" text-anchor="end" class="tk">4</text>
<text x="815.00" y="720.00" text-anchor="end" class="tk">5</text>
<polyline points="890.80,825.48 916.39,915.81 941.99,971.55 967.58,1011.91 993.18,1041.70 1018.78,1059.96 1044.37,1066.69 1069.97,1073.41 1095.56,1072.45 1121.16,1074.38 1146.76,1075.34 1172.35,1076.30 1197.95,1075.34 1223.54,1079.18 1249.14,1079.18 1274.74,1079.18 1300.33,1080.14 1325.93,1079.18 1351.52,1078.22 1377.12,1103.69" fill="none" stroke="#000000" stroke-width="1.7" stroke-linejoin="round"/>
<rect x="886.80" y="821.48" width="8.00" height="8.00" fill="#000000"/><rect x="912.39" y="911.81" width="8.00" height="8.00" fill="#000000"/><rect x="937.99" y="967.55" width="8.00" height="8.00" fill="#000000"/><rect x="963.58" y="1007.91" width="8.00" height="8.00" fill="#000000"/><rect x="989.18" y="1037.70" width="8.00" height="8.00" fill="#000000"/><rect x="1014.78" y="1055.96" width="8.00" height="8.00" fill="#000000"/><rect x="1040.37" y="1062.69" width="8.00" height="8.00" fill="#000000"/><rect x="1065.97" y="1069.41" width="8.00" height="8.00" fill="#000000"/><rect x="1091.56" y="1068.45" width="8.00" height="8.00" fill="#000000"/><rect x="1117.16" y="1070.38" width="8.00" height="8.00" fill="#000000"/><rect x="1142.76" y="1071.34" width="8.00" height="8.00" fill="#000000"/><rect x="1168.35" y="1072.30" width="8.00" height="8.00" fill="#000000"/><rect x="1193.95" y="1071.34" width="8.00" height="8.00" fill="#000000"/><rect x="1219.54" y="1075.18" width="8.00" height="8.00" fill="#000000"/><rect x="1245.14" y="1075.18" width="8.00" height="8.00" fill="#000000"/><rect x="1270.74" y="1075.18" width="8.00" height="8.00" fill="#000000"/><rect x="1296.33" y="1076.14" width="8.00" height="8.00" fill="#000000"/><rect x="1321.93" y="1075.18" width="8.00" height="8.00" fill="#000000"/><rect x="1347.52" y="1074.22" width="8.00" height="8.00" fill="#000000"/><rect x="1373.12" y="1099.69" width="8.00" height="8.00" fill="#000000"/>
<polyline points="890.80,713.04 916.39,803.37 941.99,850.46 967.58,892.75 993.18,919.65 1018.78,947.52 1044.37,981.16 1069.97,998.46 1095.56,1000.38 1121.16,998.46 1146.76,1007.11 1172.35,1012.87 1197.95,1016.72 1223.54,1017.68 1249.14,1017.20 1274.74,1017.20 1300.33,1017.20 1325.93,1017.20 1351.52,1016.72 1377.12,1026.33" fill="none" stroke="#ff0000" stroke-width="1.7" stroke-linejoin="round"/>
<circle cx="890.80" cy="713.04" r="4.35" fill="#ff0000"/><circle cx="916.39" cy="803.37" r="4.35" fill="#ff0000"/><circle cx="941.99" cy="850.46" r="4.35" fill="#ff0000"/><circle cx="967.58" cy="892.75" r="4.35" fill="#ff0000"/><circle cx="993.18" cy="919.65" r="4.35" fill="#ff0000"/><circle cx="1018.78" cy="947.52" r="4.35" fill="#ff0000"/><circle cx="1044.37" cy="981.16" r="4.35" fill="#ff0000"/><circle cx="1069.97" cy="998.46" r="4.35" fill="#ff0000"/><circle cx="1095.56" cy="1000.38" r="4.35" fill="#ff0000"/><circle cx="1121.16" cy="998.46" r="4.35" fill="#ff0000"/><circle cx="1146.76" cy="1007.11" r="4.35" fill="#ff0000"/><circle cx="1172.35" cy="1012.87" r="4.35" fill="#ff0000"/><circle cx="1197.95" cy="1016.72" r="4.35" fill="#ff0000"/><circle cx="1223.54" cy="1017.68" r="4.35" fill="#ff0000"/><circle cx="1249.14" cy="1017.20" r="4.35" fill="#ff0000"/><circle cx="1274.74" cy="1017.20" r="4.35" fill="#ff0000"/><circle cx="1300.33" cy="1017.20" r="4.35" fill="#ff0000"/><circle cx="1325.93" cy="1017.20" r="4.35" fill="#ff0000"/><circle cx="1351.52" cy="1016.72" r="4.35" fill="#ff0000"/><circle cx="1377.12" cy="1026.33" r="4.35" fill="#ff0000"/>
<polyline points="890.80,773.21 916.39,853.93 941.99,906.79 967.58,939.46 993.18,957.72 1018.78,996.16 1044.37,1004.81 1069.97,1025.95 1095.56,1040.37 1121.16,1038.45 1146.76,1039.41 1172.35,1039.41 1197.95,1039.41 1223.54,1045.65 1249.14,1048.06 1274.74,1053.82 1300.33,1058.43 1325.93,1068.04 1351.52,1068.04 1377.12,1075.73" fill="none" stroke="#0000ff" stroke-width="1.7" stroke-linejoin="round"/>
<path d="M890.80 767.01L896.50 776.31L885.10 776.31Z" fill="#0000ff"/><path d="M916.39 847.73L922.09 857.03L910.69 857.03Z" fill="#0000ff"/><path d="M941.99 900.59L947.69 909.89L936.29 909.89Z" fill="#0000ff"/><path d="M967.58 933.26L973.28 942.56L961.88 942.56Z" fill="#0000ff"/><path d="M993.18 951.52L998.88 960.82L987.48 960.82Z" fill="#0000ff"/><path d="M1018.78 989.96L1024.48 999.26L1013.08 999.26Z" fill="#0000ff"/><path d="M1044.37 998.61L1050.07 1007.91L1038.67 1007.91Z" fill="#0000ff"/><path d="M1069.97 1019.75L1075.67 1029.05L1064.27 1029.05Z" fill="#0000ff"/><path d="M1095.56 1034.17L1101.26 1043.47L1089.86 1043.47Z" fill="#0000ff"/><path d="M1121.16 1032.25L1126.86 1041.55L1115.46 1041.55Z" fill="#0000ff"/><path d="M1146.76 1033.21L1152.46 1042.51L1141.06 1042.51Z" fill="#0000ff"/><path d="M1172.35 1033.21L1178.05 1042.51L1166.65 1042.51Z" fill="#0000ff"/><path d="M1197.95 1033.21L1203.65 1042.51L1192.25 1042.51Z" fill="#0000ff"/><path d="M1223.54 1039.45L1229.24 1048.75L1217.84 1048.75Z" fill="#0000ff"/><path d="M1249.14 1041.86L1254.84 1051.16L1243.44 1051.16Z" fill="#0000ff"/><path d="M1274.74 1047.62L1280.44 1056.92L1269.04 1056.92Z" fill="#0000ff"/><path d="M1300.33 1052.23L1306.03 1061.53L1294.63 1061.53Z" fill="#0000ff"/><path d="M1325.93 1061.84L1331.63 1071.14L1320.23 1071.14Z" fill="#0000ff"/><path d="M1351.52 1061.84L1357.22 1071.14L1345.82 1071.14Z" fill="#0000ff"/><path d="M1377.12 1069.53L1382.82 1078.83L1371.42 1078.83Z" fill="#0000ff"/>
<polyline points="890.80,844.11 916.39,883.51 941.99,953.66 967.58,981.53 993.18,992.10 1018.78,1036.31 1044.37,1040.15 1069.97,1060.33 1095.56,1067.06 1121.16,1067.06 1146.76,1061.29 1172.35,1059.37 1197.95,1058.41 1223.54,1058.41 1249.14,1073.79 1274.74,1072.83 1300.33,1073.79 1325.93,1074.75 1351.52,1075.23 1377.12,1079.36" fill="none" stroke="#ff00ff" stroke-width="1.7" stroke-linejoin="round"/>
<path d="M885.10 841.01L896.50 841.01L890.80 850.31Z" fill="#ff00ff"/><path d="M910.69 880.41L922.09 880.41L916.39 889.71Z" fill="#ff00ff"/><path d="M936.29 950.56L947.69 950.56L941.99 959.86Z" fill="#ff00ff"/><path d="M961.88 978.43L973.28 978.43L967.58 987.73Z" fill="#ff00ff"/><path d="M987.48 989.00L998.88 989.00L993.18 998.30Z" fill="#ff00ff"/><path d="M1013.08 1033.21L1024.48 1033.21L1018.78 1042.51Z" fill="#ff00ff"/><path d="M1038.67 1037.05L1050.07 1037.05L1044.37 1046.35Z" fill="#ff00ff"/><path d="M1064.27 1057.23L1075.67 1057.23L1069.97 1066.53Z" fill="#ff00ff"/><path d="M1089.86 1063.96L1101.26 1063.96L1095.56 1073.26Z" fill="#ff00ff"/><path d="M1115.46 1063.96L1126.86 1063.96L1121.16 1073.26Z" fill="#ff00ff"/><path d="M1141.06 1058.19L1152.46 1058.19L1146.76 1067.49Z" fill="#ff00ff"/><path d="M1166.65 1056.27L1178.05 1056.27L1172.35 1065.57Z" fill="#ff00ff"/><path d="M1192.25 1055.31L1203.65 1055.31L1197.95 1064.61Z" fill="#ff00ff"/><path d="M1217.84 1055.31L1229.24 1055.31L1223.54 1064.61Z" fill="#ff00ff"/><path d="M1243.44 1070.69L1254.84 1070.69L1249.14 1079.99Z" fill="#ff00ff"/><path d="M1269.04 1069.72L1280.44 1069.72L1274.74 1079.03Z" fill="#ff00ff"/><path d="M1294.63 1070.69L1306.03 1070.69L1300.33 1079.99Z" fill="#ff00ff"/><path d="M1320.23 1071.65L1331.63 1071.65L1325.93 1080.95Z" fill="#ff00ff"/><path d="M1345.82 1072.13L1357.22 1072.13L1351.52 1081.43Z" fill="#ff00ff"/><path d="M1371.42 1076.26L1382.82 1076.26L1377.12 1085.56Z" fill="#ff00ff"/>
<path d="M1124.00 802.70H1180.60" stroke="#000000" stroke-width="1.6"/>
<rect x="1147.92" y="798.82" width="7.76" height="7.76" fill="#000000"/>
<text x="1187.50" y="811.20" class="lg">5V IM</text>
<path d="M1124.00 833.10H1180.60" stroke="#ff0000" stroke-width="1.6"/>
<circle cx="1151.80" cy="833.10" r="4.22" fill="#ff0000"/>
<text x="1187.50" y="841.60" class="lg">10V IM</text>
<path d="M1124.00 864.20H1180.60" stroke="#0000ff" stroke-width="1.6"/>
<path d="M1151.80 858.14L1157.33 867.16L1146.27 867.16Z" fill="#0000ff"/>
<text x="1187.50" y="872.70" class="lg">15V IM</text>
<path d="M1124.00 894.70H1180.60" stroke="#ff00ff" stroke-width="1.6"/>
<path d="M1146.27 891.74L1157.33 891.74L1151.80 900.76Z" fill="#ff00ff"/>
<text x="1187.50" y="903.20" class="lg">20V IM</text>
<text x="1064.80" y="1206.60" class="ti">Time (min)</text>
<text x="0" y="0" text-anchor="middle" class="ti" transform="translate(797.10,905.00) rotate(-90)">Propylene yield(%)</text>
<text x="784.40" y="672.40" class="lb">(d)</text>
</svg>
</body></html>
